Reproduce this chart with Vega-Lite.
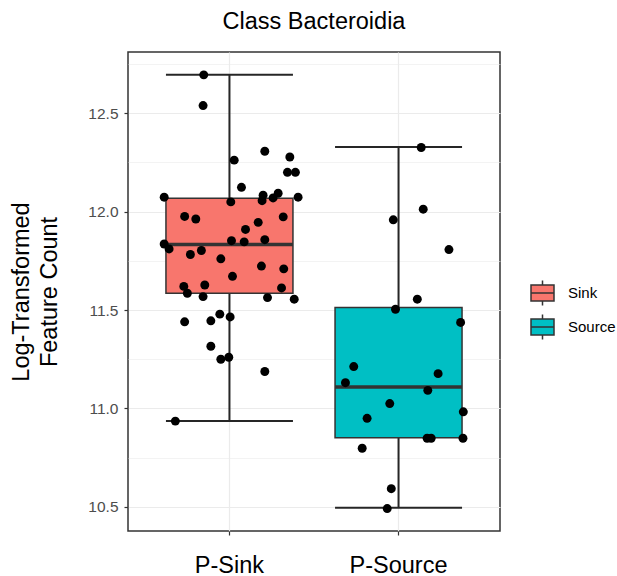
{
  "$schema": "https://vega.github.io/schema/vega-lite/v6.json",
  "width": 372,
  "height": 479,
  "autosize": {"type": "none"},
  "padding": {"left": 128, "top": 52, "right": 117, "bottom": 45},
  "background": "white",
  "title": {"text": "Class Bacteroidia", "fontSize": 23.5, "font": "Liberation Sans", "fontWeight": "normal", "color": "black", "anchor": "middle", "baseline": "alphabetic", "offset": 0},
  "config": {"view": {"stroke": "#333333", "strokeWidth": 1.5}, "font": "Liberation Sans"},
  "datasets": {
    "stats": [
      {"group": "P-Sink", "type": "Sink", "lower": 10.936, "q1": 11.585, "median": 11.832, "q3": 12.068, "upper": 12.694},
      {"group": "P-Source", "type": "Source", "lower": 10.496, "q1": 10.852, "median": 11.109, "q3": 11.513, "upper": 12.328}
    ],
    "points": [
      {"group": "P-Sink", "value": 12.694, "jitter": -0.152},
      {"group": "P-Sink", "value": 12.538, "jitter": -0.156},
      {"group": "P-Sink", "value": 12.261, "jitter": 0.028},
      {"group": "P-Sink", "value": 12.306, "jitter": 0.209},
      {"group": "P-Sink", "value": 12.277, "jitter": 0.357},
      {"group": "P-Sink", "value": 12.199, "jitter": 0.343},
      {"group": "P-Sink", "value": 12.199, "jitter": 0.39},
      {"group": "P-Sink", "value": 12.123, "jitter": 0.071},
      {"group": "P-Sink", "value": 12.073, "jitter": -0.386},
      {"group": "P-Sink", "value": 12.049, "jitter": 0.008},
      {"group": "P-Sink", "value": 12.083, "jitter": 0.199},
      {"group": "P-Sink", "value": 12.055, "jitter": 0.193},
      {"group": "P-Sink", "value": 12.069, "jitter": 0.258},
      {"group": "P-Sink", "value": 12.093, "jitter": 0.288},
      {"group": "P-Sink", "value": 12.073, "jitter": 0.406},
      {"group": "P-Sink", "value": 11.975, "jitter": -0.265},
      {"group": "P-Sink", "value": 11.962, "jitter": -0.199},
      {"group": "P-Sink", "value": 11.973, "jitter": 0.318},
      {"group": "P-Sink", "value": 11.945, "jitter": 0.17},
      {"group": "P-Sink", "value": 11.909, "jitter": 0.095},
      {"group": "P-Sink", "value": 11.852, "jitter": 0.012},
      {"group": "P-Sink", "value": 11.846, "jitter": 0.087},
      {"group": "P-Sink", "value": 11.857, "jitter": 0.209},
      {"group": "P-Sink", "value": 11.835, "jitter": -0.386},
      {"group": "P-Sink", "value": 11.81, "jitter": -0.357},
      {"group": "P-Sink", "value": 11.782, "jitter": -0.231},
      {"group": "P-Sink", "value": 11.802, "jitter": -0.166},
      {"group": "P-Sink", "value": 11.76, "jitter": -0.051},
      {"group": "P-Sink", "value": 11.723, "jitter": 0.189},
      {"group": "P-Sink", "value": 11.709, "jitter": 0.321},
      {"group": "P-Sink", "value": 11.671, "jitter": 0.018},
      {"group": "P-Sink", "value": 11.62, "jitter": -0.27},
      {"group": "P-Sink", "value": 11.627, "jitter": -0.146},
      {"group": "P-Sink", "value": 11.612, "jitter": 0.308},
      {"group": "P-Sink", "value": 11.585, "jitter": -0.249},
      {"group": "P-Sink", "value": 11.568, "jitter": -0.156},
      {"group": "P-Sink", "value": 11.563, "jitter": 0.225},
      {"group": "P-Sink", "value": 11.555, "jitter": 0.383},
      {"group": "P-Sink", "value": 11.44, "jitter": -0.265},
      {"group": "P-Sink", "value": 11.445, "jitter": -0.11},
      {"group": "P-Sink", "value": 11.479, "jitter": -0.057},
      {"group": "P-Sink", "value": 11.465, "jitter": 0.004},
      {"group": "P-Sink", "value": 11.316, "jitter": -0.11},
      {"group": "P-Sink", "value": 11.25, "jitter": -0.051},
      {"group": "P-Sink", "value": 11.26, "jitter": -0.004},
      {"group": "P-Sink", "value": 11.188, "jitter": 0.209},
      {"group": "P-Sink", "value": 10.936, "jitter": -0.32},
      {"group": "P-Source", "value": 12.325, "jitter": 0.134},
      {"group": "P-Source", "value": 12.012, "jitter": 0.146},
      {"group": "P-Source", "value": 11.958, "jitter": -0.031},
      {"group": "P-Source", "value": 11.807, "jitter": 0.298},
      {"group": "P-Source", "value": 11.555, "jitter": 0.111},
      {"group": "P-Source", "value": 11.504, "jitter": -0.018},
      {"group": "P-Source", "value": 11.437, "jitter": 0.367},
      {"group": "P-Source", "value": 11.213, "jitter": -0.265},
      {"group": "P-Source", "value": 11.131, "jitter": -0.314},
      {"group": "P-Source", "value": 11.177, "jitter": 0.234},
      {"group": "P-Source", "value": 11.092, "jitter": 0.173},
      {"group": "P-Source", "value": 11.025, "jitter": -0.052},
      {"group": "P-Source", "value": 10.95, "jitter": -0.186},
      {"group": "P-Source", "value": 10.983, "jitter": 0.383},
      {"group": "P-Source", "value": 10.849, "jitter": 0.169},
      {"group": "P-Source", "value": 10.849, "jitter": 0.193},
      {"group": "P-Source", "value": 10.849, "jitter": 0.381},
      {"group": "P-Source", "value": 10.798, "jitter": -0.215},
      {"group": "P-Source", "value": 10.593, "jitter": -0.043},
      {"group": "P-Source", "value": 10.492, "jitter": -0.067}
    ]
  },
  "encoding": {
    "x": {
      "field": "group", "type": "nominal",
      "scale": {"domain": ["P-Sink", "P-Source"], "paddingInner": 0.2, "paddingOuter": 0.2},
      "axis": {"title": null, "labelAngle": 0, "labelFontSize": 23.5, "labelColor": "black", "labelFont": "Liberation Sans", "labelPadding": 18, "tickSize": 4, "tickColor": "#333333", "tickWidth": 1.2, "grid": true, "gridColor": "#EBEBEB", "gridWidth": 1.2, "domain": false, "bandPosition": 0.5}
    }
  },
  "layer": [
    {
      "data": {"name": "stats"},
      "mark": {"type": "rule", "color": "#262626", "strokeWidth": 2, "opacity": 1},
      "encoding": {
        "y": {
          "field": "lower", "type": "quantitative",
          "scale": {"domain": [10.378, 12.81], "nice": false, "zero": false},
          "axis": {
            "title": ["Log-Transformed", "Feature Count"],
            "values": [10.5, 10.75, 11, 11.25, 11.5, 11.75, 12, 12.25, 12.5, 12.75],
            "labelExpr": "datum.value % 0.5 === 0 ? format(datum.value, '.1f') : ''",
            "tickOpacity": {"condition": {"test": "datum.value % 0.5 !== 0", "value": 0}, "value": 1},
            "gridWidth": {"condition": {"test": "datum.value % 0.5 !== 0", "value": 0.6}, "value": 1.2},
            "gridColor": "#EBEBEB",
            "tickColor": "#333333", "tickSize": 4, "tickWidth": 1.2,
            "labelFontSize": 15.5, "labelColor": "#4D4D4D", "labelPadding": 6, "labelFont": "Liberation Sans", "labelFlush": false, "labelOverlap": false,
            "titleFontSize": 23.5, "titleFontWeight": "normal", "titleColor": "black", "titleFont": "Liberation Sans",
            "titleLineHeight": 28, "titleAngle": -90, "titleX": -119, "titleY": 239.5, "titleAlign": "center", "titleBaseline": "top",
            "domain": false
          }
        },
        "y2": {"field": "upper"}
      }
    },
    {
      "data": {"name": "stats"},
      "mark": {"type": "tick", "color": "#262626", "size": 127, "thickness": 2, "orient": "horizontal", "opacity": 1},
      "encoding": {"y": {"field": "lower", "type": "quantitative"}}
    },
    {
      "data": {"name": "stats"},
      "mark": {"type": "tick", "color": "#262626", "size": 127, "thickness": 2, "orient": "horizontal", "opacity": 1},
      "encoding": {"y": {"field": "upper", "type": "quantitative"}}
    },
    {
      "data": {"name": "stats"},
      "mark": {"type": "bar", "width": 127, "stroke": "#333333", "strokeWidth": 1.5, "opacity": 1},
      "encoding": {
        "y": {"field": "q1", "type": "quantitative"},
        "y2": {"field": "q3"},
        "fill": {
          "field": "type", "type": "nominal",
          "scale": {"domain": ["Sink", "Source"], "range": ["#F8766D", "#00BFC4"]},
          "legend": {
            "orient": "none", "legendX": 401, "legendY": 227.5, "title": null,
            "symbolType": "M-0.92,-0.64H0.92V0.64H-0.92Z M-0.92,0H0.92 M0,-0.64V-1 M0,0.64V1",
            "symbolSize": 625, "symbolStrokeColor": "#333333", "symbolStrokeWidth": 1.5, "symbolOpacity": 1,
            "labelFontSize": 15, "labelColor": "black", "labelFont": "Liberation Sans", "labelOffset": 12,
            "rowPadding": 3, "padding": 0
          }
        }
      }
    },
    {
      "data": {"name": "stats"},
      "mark": {"type": "tick", "color": "#333333", "size": 127, "thickness": 3.5, "orient": "horizontal", "opacity": 1},
      "encoding": {"y": {"field": "median", "type": "quantitative"}}
    },
    {
      "data": {"name": "points"},
      "mark": {"type": "point", "filled": true, "color": "black", "size": 80, "opacity": 1},
      "encoding": {
        "xOffset": {"field": "jitter", "type": "quantitative", "scale": {"domain": [-0.4, 0.4]}},
        "y": {"field": "value", "type": "quantitative"}
      }
    }
  ]
}
